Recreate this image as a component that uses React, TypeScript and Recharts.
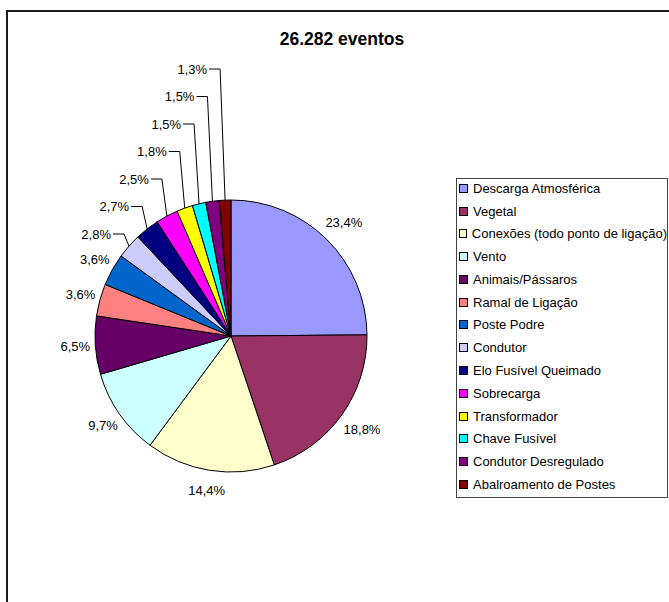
import { PieChart, Pie, Cell, Legend } from 'recharts'

const causes = [
  'Descarga Atmosférica',
  'Vegetal',
  'Conexões (todo ponto de ligação)',
  'Vento',
  'Animais/Pássaros',
  'Ramal de Ligação',
  'Poste Podre',
  'Condutor',
  'Elo Fusível Queimado',
  'Sobrecarga',
  'Transformador',
  'Chave Fusível',
  'Condutor Desregulado',
  'Abalroamento de Postes',
]

const shares = [23.4, 18.8, 14.4, 9.7, 6.5, 3.6, 3.6, 2.8, 2.7, 2.5, 1.8, 1.5, 1.5, 1.3]

const colors = [
  '#9999FF',
  '#993366',
  '#FFFFCC',
  '#CCFFFF',
  '#660066',
  '#FF8080',
  '#0066CC',
  '#CCCCFF',
  '#000080',
  '#FF00FF',
  '#FFFF00',
  '#00FFFF',
  '#800080',
  '#800000',
]

const title = '26.282 eventos'

const data = causes.map((name, i) => ({ name, value: shares[i] }))

const FONT = '"Liberation Sans", Arial, sans-serif'
const RAD = Math.PI / 180

// first 7 slices get a plain label, the thin ones get stacked labels with leader lines
const renderLabel = (props: any) => {
  const { cx, cy, midAngle, outerRadius, index, value } = props
  const text = value.toFixed(1).replace('.', ',') + '%'
  const cos = Math.cos(-midAngle * RAD)
  const sin = Math.sin(-midAngle * RAD)
  if (index < 7) {
    const r = outerRadius + 20 + 6 * Math.max(0, cos)
    return (
      <text
        x={cx + r * cos}
        y={cy + r * sin}
        textAnchor="middle"
        dominantBaseline="central"
        fontSize={13}
        fontFamily={FONT}
        fill="#000"
      >
        {text}
      </text>
    )
  }
  const ax = cx + outerRadius * cos
  const ay = cy + outerRadius * sin
  const ly = cy - outerRadius + 34 - (index - 7) * 27.5
  const ex = ax - 5
  return (
    <g>
      <polyline
        points={`${ax},${ay} ${ex},${ly} ${ex - 11},${ly}`}
        fill="none"
        stroke="#000"
        strokeWidth={1}
      />
      <text
        x={ex - 13}
        y={ly}
        textAnchor="end"
        dominantBaseline="central"
        fontSize={13}
        fontFamily={FONT}
        fill="#000"
      >
        {text}
      </text>
    </g>
  )
}

const LegendBox = () => (
  <div
    style={{
      border: '1px solid #444',
      width: 212,
      height: 320,
      boxSizing: 'border-box',
      fontFamily: FONT,
      fontSize: 13,
      background: '#fff',
    }}
  >
    <div style={{ position: 'relative', top: -2 }}>
      {causes.map((name, i) => (
        <div
          key={name}
          style={{ display: 'flex', alignItems: 'center', height: 22.77, whiteSpace: 'nowrap' }}
        >
          <span
            style={{
              display: 'inline-block',
              width: 7,
              height: 7,
              border: '1px solid #000',
              background: colors[i],
              marginLeft: 2,
              marginRight: 5,
            }}
          />
          <span>{name}</span>
        </div>
      ))}
    </div>
  </div>
)

export default function App() {
  return (
    <div
      style={{
        position: 'relative',
        width: 669,
        height: 602,
        overflow: 'hidden',
        background: '#fff',
        fontFamily: FONT,
      }}
    >
      <style>{'body{margin:0}'}</style>
      <div
        style={{
          position: 'absolute',
          left: 6,
          top: 10,
          width: 800,
          height: 800,
          borderLeft: '2px solid #1a1a1a',
          borderTop: '2px solid #1a1a1a',
        }}
      />
      <div
        style={{
          position: 'absolute',
          left: 0,
          width: 684,
          top: 29,
          textAlign: 'center',
          fontWeight: 'bold',
          fontSize: 17.5,
        }}
      >
        {title}
      </div>
      <div style={{ position: 'absolute', left: 0, top: 0 }}>
        <PieChart width={669} height={602} margin={{ top: 0, right: 0, bottom: 0, left: 0 }}>
          <Pie
            data={data}
            dataKey="value"
            nameKey="name"
            cx={231}
            cy={336}
            outerRadius={136}
            startAngle={90}
            endAngle={-270}
            stroke="#000"
            strokeWidth={1}
            labelLine={false}
            label={renderLabel}
            isAnimationActive={false}
          >
            {data.map((d, i) => (
              <Cell key={d.name} fill={colors[i]} />
            ))}
          </Pie>
          <Legend
            layout="vertical"
            align="right"
            verticalAlign="top"
            wrapperStyle={{ left: 456, top: 178, width: 212, height: 320, right: 'auto' }}
            content={() => <LegendBox />}
          />
        </PieChart>
      </div>
    </div>
  )
}
